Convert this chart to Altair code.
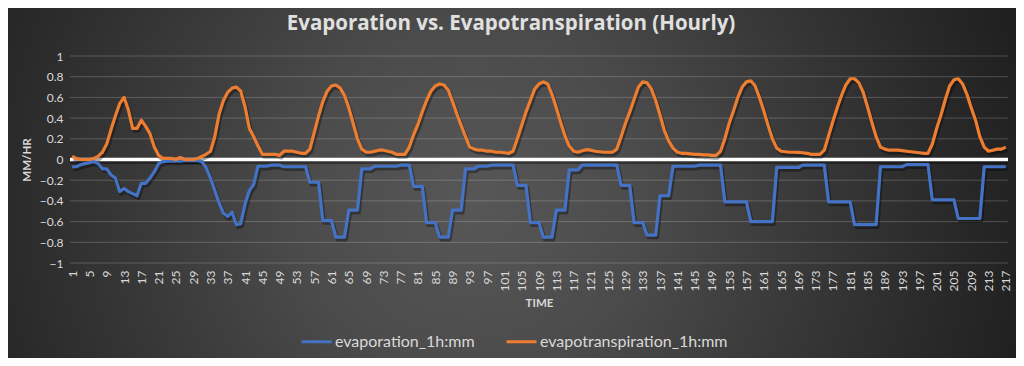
import altair as alt
import pandas as pd

# ---------------- data ----------------
hours = list(range(1, 218))

evaporation = [
    -0.07, -0.07, -0.05, -0.04, -0.03, -0.02, -0.04, -0.09, -0.09, -0.15,
    -0.18, -0.31, -0.28, -0.31, -0.33, -0.35, -0.23, -0.23, -0.18, -0.12,
    -0.04, -0.02, -0.015, -0.015, -0.015, -0.015, -0.01, -0.01, -0.01, -0.01,
    -0.02, -0.08, -0.18, -0.30, -0.42, -0.52, -0.55, -0.51, -0.63, -0.62,
    -0.43, -0.30, -0.24, -0.065, -0.065, -0.065, -0.055, -0.055, -0.055, -0.07,
    -0.07, -0.07, -0.07, -0.07, -0.07, -0.22, -0.22, -0.22, -0.59, -0.59,
    -0.59, -0.75, -0.75, -0.75, -0.49, -0.49, -0.49, -0.09, -0.09, -0.09,
    -0.065, -0.065, -0.065, -0.065, -0.065, -0.065, -0.055, -0.055, -0.055, -0.26,
    -0.26, -0.26, -0.61, -0.61, -0.61, -0.75, -0.75, -0.75, -0.49, -0.49,
    -0.49, -0.09, -0.09, -0.09, -0.065, -0.065, -0.065, -0.055, -0.055, -0.055,
    -0.055, -0.055, -0.055, -0.25, -0.25, -0.25, -0.61, -0.61, -0.61, -0.75,
    -0.75, -0.75, -0.49, -0.49, -0.49, -0.10, -0.10, -0.10, -0.055, -0.055,
    -0.055, -0.055, -0.055, -0.055, -0.055, -0.055, -0.055, -0.25, -0.25, -0.25,
    -0.61, -0.61, -0.61, -0.73, -0.73, -0.73, -0.35, -0.35, -0.35, -0.065,
    -0.065, -0.065, -0.065, -0.065, -0.065, -0.055, -0.055, -0.055, -0.055, -0.055,
    -0.055, -0.41, -0.41, -0.41, -0.41, -0.41, -0.41, -0.60, -0.60, -0.60,
    -0.60, -0.60, -0.60, -0.077, -0.077, -0.077, -0.077, -0.077, -0.077, -0.055,
    -0.055, -0.055, -0.055, -0.055, -0.055, -0.41, -0.41, -0.41, -0.41, -0.41,
    -0.41, -0.63, -0.63, -0.63, -0.63, -0.63, -0.63, -0.07, -0.07, -0.07,
    -0.07, -0.07, -0.07, -0.05, -0.05, -0.05, -0.05, -0.05, -0.05, -0.39,
    -0.39, -0.39, -0.39, -0.39, -0.39, -0.57, -0.57, -0.57, -0.57, -0.57,
    -0.57, -0.07, -0.07, -0.07, -0.07, -0.07, -0.07,
]

evapotranspiration = [
    0.03, 0.01, 0.0, 0.0, 0.0, 0.01, 0.03, 0.07, 0.15, 0.29,
    0.42, 0.54, 0.60, 0.48, 0.30, 0.30, 0.38, 0.32, 0.25, 0.12,
    0.04, 0.01, 0.01, 0.01, 0.0, 0.02, 0.0, 0.0, 0.0, 0.01,
    0.03, 0.05, 0.08, 0.22, 0.44, 0.57, 0.65, 0.69, 0.70, 0.66,
    0.51, 0.30, 0.22, 0.13, 0.05, 0.05, 0.05, 0.05, 0.04, 0.08,
    0.08, 0.08, 0.07, 0.06, 0.06, 0.10, 0.26, 0.42, 0.56, 0.66,
    0.71, 0.72, 0.69, 0.62, 0.50, 0.35, 0.20, 0.10, 0.07, 0.07,
    0.08, 0.09, 0.09, 0.08, 0.07, 0.05, 0.05, 0.05, 0.12, 0.24,
    0.34, 0.46, 0.57, 0.66, 0.71, 0.73, 0.72, 0.67, 0.56, 0.44,
    0.33, 0.22, 0.12, 0.10, 0.09, 0.09, 0.08, 0.08, 0.07, 0.07,
    0.065, 0.06, 0.08, 0.20, 0.33, 0.46, 0.57, 0.68, 0.73, 0.75,
    0.73, 0.63, 0.50, 0.36, 0.23, 0.13, 0.08, 0.07, 0.085, 0.095,
    0.09, 0.08, 0.075, 0.07, 0.07, 0.07, 0.10, 0.22, 0.35, 0.46,
    0.58, 0.70, 0.75, 0.74, 0.68, 0.57, 0.43, 0.28, 0.18, 0.11,
    0.07, 0.06, 0.06, 0.055, 0.05, 0.05, 0.045, 0.045, 0.04, 0.04,
    0.08, 0.20, 0.35, 0.47, 0.60, 0.70, 0.75, 0.76, 0.71, 0.60,
    0.47, 0.33, 0.20, 0.11, 0.08, 0.075, 0.07, 0.07, 0.068, 0.065,
    0.06, 0.05, 0.05, 0.05, 0.09, 0.23, 0.37, 0.50, 0.62, 0.72,
    0.78, 0.78, 0.74, 0.65, 0.51, 0.36, 0.22, 0.12, 0.10, 0.09,
    0.09, 0.09, 0.085, 0.08, 0.075, 0.07, 0.065, 0.06, 0.06, 0.15,
    0.30, 0.43, 0.58, 0.71, 0.77, 0.78, 0.73, 0.63, 0.50, 0.38,
    0.22, 0.12, 0.08, 0.09, 0.10, 0.10, 0.12,
]

series_names = ["evaporation_1h:mm", "evapotranspiration_1h:mm"]
series_colors = ["#4472C4", "#ED7D31"]
y_ticks = [-1, -0.8, -0.6, -0.4, -0.2, 0, 0.2, 0.4, 0.6, 0.8, 1]
x_ticks = [1, 5, 9, 13, 17, 21, 25, 29, 33, 37, 41, 45, 49, 53, 57, 61, 65, 69,
           73, 77, 81, 85, 89, 93, 97, 101, 105, 109, 113, 117, 121, 125, 129,
           133, 137, 141, 145, 149, 153, 157, 161, 165, 169, 173, 177, 181, 185,
           189, 193, 197, 201, 205, 209, 213, 217]
title_text = "Evaporation vs. Evapotranspiration (Hourly)"

df = pd.DataFrame({
    "hour": hours + hours,
    "value": evaporation + evapotranspiration,
    "series": [series_names[0]] * len(hours) + [series_names[1]] * len(hours),
})

# ---------------- layout ----------------
W, H = 938, 207
PAD_L, PAD_T, PAD_R, PAD_B = 62, 48, 8, 95
TXT = "#d9d9d9"
FONT = "Lato"

x_scale = alt.Scale(domain=[0.5, 217.5], nice=False, zero=False)
y_scale = alt.Scale(domain=[-1, 1], nice=False)

x_axis = alt.Axis(
    values=x_ticks, grid=False, ticks=False, domain=False,
    labelAngle=270, labelColor=TXT, labelFont=FONT, labelFontSize=12,
    labelPadding=7, labelOverlap=False, labelFlush=False,
    title="TIME", titleColor=TXT, titleFont=FONT, titleFontSize=11.5,
    titleFontWeight="bold", titleY=40, titleBaseline="middle", zindex=1,
)
y_axis = alt.Axis(
    values=y_ticks, format=".1~f", grid=False, ticks=False, domain=False,
    labelColor=TXT, labelFont=FONT, labelFontSize=12, labelPadding=7,
    labelFlush=False,
    title="MM/HR", titleColor=TXT, titleFont=FONT, titleFontSize=11.5,
    titleFontWeight="bold", titleAngle=270, titleX=-43, titleY=H / 2,
    titleAlign="center", titleBaseline="middle", zindex=1,
)


def xenc():
    return alt.X("hour:Q", scale=x_scale, axis=x_axis)


def yenc():
    return alt.Y("value:Q", scale=y_scale, axis=y_axis)


bg = alt.Chart(pd.DataFrame({"k": [0]})).mark_rect(
    fill=alt.RadialGradient(
        gradient="radial",
        stops=[
            alt.GradientStop(offset=0, color="#575757"),
            alt.GradientStop(offset=0.3, color="#4b4b4b"),
            alt.GradientStop(offset=0.55, color="#3a3a3a"),
            alt.GradientStop(offset=0.8, color="#2a2a2a"),
            alt.GradientStop(offset=1, color="#1e1e1e"),
        ],
        x1=0.46, y1=0.52, r1=0, x2=0.46, y2=0.52, r2=0.58,
    ),
).encode(
    x=alt.value(-PAD_L), x2=alt.value(W + PAD_R),
    y=alt.value(-PAD_T), y2=alt.value(H + PAD_B),
)

grid = alt.Chart(pd.DataFrame({"value": y_ticks})).mark_rule(
    color="#ffffff", opacity=0.2, strokeWidth=1
).encode(y=yenc())

zero_shadow = alt.Chart(pd.DataFrame({"value": [0]})).mark_rule(
    color="#000000", opacity=0.35, strokeWidth=4, yOffset=2.5
).encode(y=yenc())
zero_line = alt.Chart(pd.DataFrame({"value": [0]})).mark_rule(
    color="#ffffff", strokeWidth=3.5
).encode(y=yenc())

line_shadow = alt.Chart(df).mark_line(
    color="#000000", opacity=0.35, strokeWidth=3.6, xOffset=1.5, yOffset=2.5,
    strokeJoin="round",
).encode(x=xenc(), y=yenc(), detail="series:N")

lines = alt.Chart(df).mark_line(strokeWidth=3.2, strokeJoin="round").encode(
    x=xenc(),
    y=yenc(),
    color=alt.Color(
        "series:N",
        scale=alt.Scale(domain=series_names, range=series_colors),
        legend=alt.Legend(
            orient="none", legendX=230, legendY=269, direction="horizontal",
            title=None, symbolType="stroke", symbolSize=900,
            symbolStrokeWidth=3, labelFont=FONT, labelFontSize=16,
            labelColor=TXT, labelOffset=2, columnPadding=25, padding=0,
            labelLimit=400,
        ),
    ),
)

chart = alt.layer(bg, grid, zero_shadow, zero_line, line_shadow, lines).properties(
    width=W,
    height=H,
    title=alt.TitleParams(
        title_text, font="Open Sans", fontSize=20.5, fontWeight="bold",
        color="#e0e0e0", anchor="middle", dx=-28, dy=26, offset=0,
    ),
    padding={"left": PAD_L, "top": PAD_T, "right": PAD_R, "bottom": PAD_B},
    autosize=alt.AutoSizeParams(type="none"),
    background="#2a2a2a",
).configure_view(stroke=None)

chart.save("out.html", embed_options={"renderer": "svg", "actions": False})
